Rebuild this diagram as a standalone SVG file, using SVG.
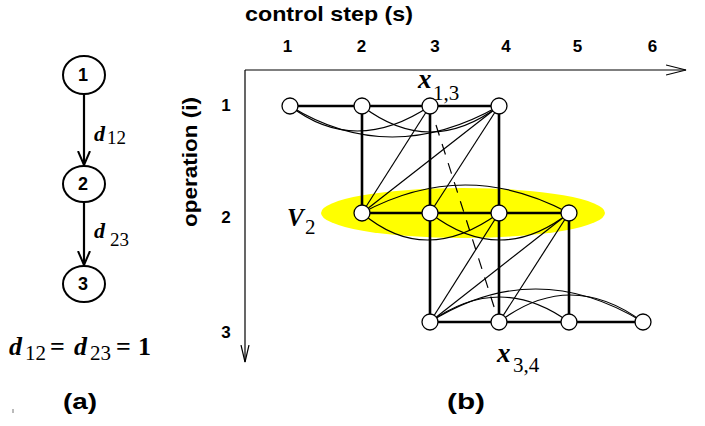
<svg xmlns="http://www.w3.org/2000/svg" width="705" height="426" viewBox="0 0 705 426">
<defs>
<style>
.lbl{font-family:"Liberation Sans",Arial,sans-serif;font-weight:bold;fill:#000}
.ser{font-family:"Liberation Serif","Times New Roman",serif;fill:#000}
.bi{font-weight:bold;font-style:italic}
.thick{stroke:#000;stroke-width:2.6;fill:none}
.thin{stroke:#000;stroke-width:1.2;fill:none}
.ax{stroke:#000;stroke-width:1.2;fill:none}
.node{fill:#fff;stroke:#000;stroke-width:1.3}
.bignode{fill:#fff;stroke:#000;stroke-width:2}
</style>
<marker id="openH" markerWidth="22" markerHeight="12" refX="20" refY="6" orient="auto" markerUnits="userSpaceOnUse">
<path d="M0,1 L20,6 L0,11" fill="none" stroke="#000" stroke-width="1.2"/>
</marker>
<marker id="openV" markerWidth="19" markerHeight="10" refX="17" refY="5" orient="auto" markerUnits="userSpaceOnUse">
<path d="M0,1 L17,5 L0,9" fill="none" stroke="#000" stroke-width="1.2"/>
</marker>
<marker id="openL" markerWidth="16" markerHeight="14" refX="14" refY="7" orient="auto" markerUnits="userSpaceOnUse">
<path d="M0,1 L14,7 L0,13" fill="none" stroke="#000" stroke-width="2"/>
</marker>
</defs>
<rect width="705" height="426" fill="#fff"/>

<!-- (a) dependency graph -->
<g id="connectors-a">
<line x1="84" y1="94" x2="84" y2="165" stroke="#000" stroke-width="2.2" marker-end="url(#openL)"/>
<line x1="84" y1="202" x2="84" y2="265" stroke="#000" stroke-width="2.2" marker-end="url(#openL)"/>
</g>
<g id="a-n1"><ellipse class="bignode" cx="84" cy="75" rx="21" ry="19"/><text class="lbl" x="83" y="81" font-size="18" text-anchor="middle">1</text></g>
<g id="a-n2"><ellipse class="bignode" cx="84" cy="184" rx="21" ry="18"/><text class="lbl" x="83" y="190" font-size="18" text-anchor="middle">2</text></g>
<g id="a-n3"><ellipse class="bignode" cx="84" cy="284" rx="21" ry="18"/><text class="lbl" x="83" y="290" font-size="18" text-anchor="middle">3</text></g>
<text class="ser" font-size="22"><tspan class="bi" x="94" y="141">d</tspan><tspan x="107" y="144" font-size="19">12</tspan></text>
<text class="ser" font-size="22"><tspan class="bi" x="94" y="238">d</tspan><tspan x="110" y="246" font-size="19">23</tspan></text>
<text class="ser" font-size="26"><tspan class="bi" x="9" y="355">d</tspan><tspan x="25" y="360" font-size="21">12</tspan><tspan x="50" y="355" font-weight="bold">=</tspan><tspan class="bi" x="74" y="355">d</tspan><tspan x="90" y="360" font-size="21">23</tspan><tspan x="116" y="355" font-weight="bold">=</tspan><tspan x="138" y="355" font-weight="bold">1</tspan></text>
<text class="lbl" x="63" y="409" font-size="22" textLength="34" lengthAdjust="spacingAndGlyphs">(a)</text>
<line x1="13" y1="409" x2="13" y2="413" stroke="#777" stroke-width="1"/>

<!-- (b) axes and labels -->
<g id="axes">
<line class="ax" x1="245" y1="70" x2="686" y2="70" marker-end="url(#openH)"/>
<line class="ax" x1="245" y1="70" x2="245" y2="362" marker-end="url(#openV)"/>
</g>
<text class="lbl" x="245" y="21" font-size="21" textLength="168" lengthAdjust="spacingAndGlyphs">control step (s)</text>
<g class="lbl" font-size="17" text-anchor="middle">
<text x="287.5" y="52">1</text><text x="361.5" y="52">2</text><text x="435" y="52">3</text>
<text x="506" y="52">4</text><text x="577.5" y="52">5</text><text x="652.5" y="52">6</text>
<text x="226" y="111">1</text><text x="226" y="223">2</text><text x="226" y="338">3</text>
</g>
<text class="lbl" font-size="20" transform="translate(197,227) rotate(-90)" textLength="130" lengthAdjust="spacingAndGlyphs">operation (i)</text>

<ellipse id="V2-set" cx="463" cy="213" rx="142" ry="25" fill="#ffff00"/>

<g id="connectors-b">
<line class="thick" x1="290" y1="106" x2="499" y2="106"/>
<line class="thick" x1="362" y1="213" x2="569" y2="213"/>
<line class="thick" x1="430" y1="322" x2="643" y2="322"/>
<line class="thick" x1="362" y1="106" x2="362" y2="213"/>
<line class="thick" x1="430" y1="106" x2="430" y2="322"/>
<line class="thick" x1="499" y1="106" x2="499" y2="322"/>
<line class="thick" x1="569" y1="213" x2="569" y2="322"/>
<path class="thin" d="M290,106 Q355,156 430,106"/>
<path class="thin" d="M290,106 Q390,168 499,106"/>
<path class="thin" d="M362,106 Q430,158 499,106"/>
<path class="thin" d="M362,213 Q465,157 569,213"/>
<path class="thin" d="M362,213 Q425,267 499,213"/>
<path class="thin" d="M430,213 Q500,267 569,213"/>
<path class="thin" d="M430,322 Q500,272 569,322"/>
<path class="thin" d="M430,322 Q535,256 643,322"/>
<path class="thin" d="M499,322 Q570,268 643,322"/>
<line class="thin" x1="362" y1="213" x2="430" y2="106"/>
<line class="thin" x1="362" y1="213" x2="499" y2="106"/>
<line class="thin" x1="430" y1="213" x2="499" y2="106"/>
<line class="thin" x1="430" y1="322" x2="499" y2="213"/>
<line class="thin" x1="430" y1="322" x2="569" y2="213"/>
<line class="thin" x1="499" y1="322" x2="569" y2="213"/>
<line class="thin" x1="436" y1="125" x2="496" y2="313" stroke-dasharray="11,9"/>
</g>

<g id="n11"><circle class="node" cx="290" cy="106" r="8"/></g>
<g id="n12"><circle class="node" cx="362" cy="106" r="8"/></g>
<g id="n13"><circle class="node" cx="430" cy="106" r="8"/></g>
<g id="n14"><circle class="node" cx="499" cy="106" r="8"/></g>
<g id="n22"><circle class="node" cx="362" cy="213" r="8"/></g>
<g id="n23"><circle class="node" cx="430" cy="213" r="8"/></g>
<g id="n24"><circle class="node" cx="499" cy="213" r="8"/></g>
<g id="n25"><circle class="node" cx="569" cy="213" r="8"/></g>
<g id="n33"><circle class="node" cx="430" cy="322" r="8"/></g>
<g id="n34"><circle class="node" cx="499" cy="322" r="8"/></g>
<g id="n35"><circle class="node" cx="569" cy="322" r="8"/></g>
<g id="n36"><circle class="node" cx="643" cy="322" r="8"/></g>

<text class="ser" font-size="27"><tspan class="bi" x="418" y="88">x</tspan><tspan x="433" y="100" font-size="21">1,3</tspan></text>
<text class="ser" font-size="27"><tspan class="bi" x="497" y="362">x</tspan><tspan x="513" y="372" font-size="21">3,4</tspan></text>
<text class="ser" font-size="25"><tspan class="bi" x="287" y="226">V</tspan><tspan x="305" y="234" font-size="21">2</tspan></text>

<text class="lbl" x="447" y="409" font-size="22" textLength="38" lengthAdjust="spacingAndGlyphs">(b)</text>
</svg>
